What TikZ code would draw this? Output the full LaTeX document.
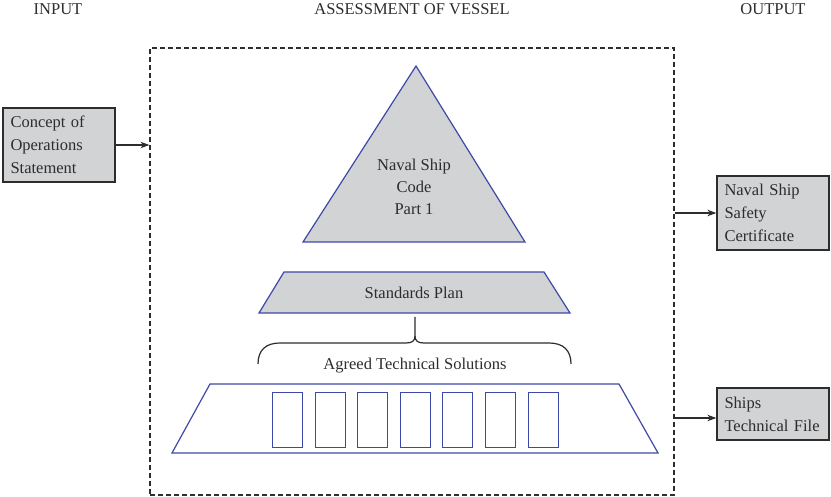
\documentclass[tikz,border=0pt]{standalone}
\usepackage{fontspec}
\setmainfont{Liberation Serif}
\usetikzlibrary{arrows.meta}
\definecolor{boxgray}{RGB}{209,211,212}
\definecolor{lineblue}{RGB}{62,72,165}
\definecolor{darkline}{RGB}{45,45,45}
\begin{document}
\begin{tikzpicture}[x=1pt,y=-1pt,
  every node/.style={font=\fontsize{16.5}{23}\selectfont, text=darkline},
  header/.style={anchor=base, inner sep=0pt},
  grayblock/.style={draw=darkline, line width=1.3pt, fill=boxgray, minimum width=112pt, inner xsep=7pt, inner ysep=0pt, text width=97pt, align=left},
  blueshape/.style={draw=lineblue, line width=1.2pt},
  slot/.style={draw=lineblue, line width=1.1pt},
  frame/.style={draw=darkline, line width=1.2pt, dash pattern=on 5pt off 3pt, minimum width=524pt, minimum height=447pt, inner sep=0pt},
  flow/.style={draw=darkline, line width=1.2pt, -{Stealth[length=9pt,width=6.5pt]}},
  bracepath/.style={draw=darkline, line width=1.2pt}
]
\useasboundingbox (0,0) rectangle (831,497);

% headers
\node[header] (hin) at (58,15) {INPUT};
\node[header] (hmid) at (412,15) {ASSESSMENT OF VESSEL};
\node[header] (hout) at (773,15) {OUTPUT};

% frame
\node[frame] (fr) at (412,271.5) {};

% input / output boxes
\node[grayblock, minimum height=74pt] (inbox) at (59,145) {Concept of\\Operations\\Statement};
\node[grayblock, minimum height=74pt] (out1) at (773,213) {Naval Ship\\Safety\\Certificate};
\node[grayblock, minimum height=52pt] (out2) at (773,414) {Ships\\Technical File};

\coordinate (o1) at (out1.west -| fr.east);
\coordinate (o2s) at ([yshift=-4pt]out2.west -| fr.east);
\coordinate (o2e) at ([yshift=-4pt]out2.west);
\coordinate (iin) at (inbox.east -| fr.west);

\draw[flow] (inbox.east) -- (iin);
\draw[flow] (o1) -- (out1.west);
\draw[flow] (o2s) -- (o2e);

% triangle
\draw[blueshape, fill=boxgray] (416,66) -- (525,242) -- (303,242) -- cycle;
\node[align=center, inner sep=0pt, font=\fontsize{16.5}{22}\selectfont] (code) at (414,187) {Naval Ship\\Code\\Part 1};

% standards plan
\draw[blueshape, fill=boxgray] (284,272) -- (544,272) -- (570,313) -- (259,313) -- cycle;
\node[inner sep=0pt] (sp) at (414,293) {Standards Plan};

% brace
\draw[bracepath] (258,364) .. controls (258,350) and (266,343) .. (280,343) -- (406,343)
   .. controls (412,343) and (415,341) .. (415,336) -- (415,317);
\draw[bracepath] (571,364) .. controls (571,350) and (563,343) .. (549,343) -- (424,343)
   .. controls (418,343) and (415,341) .. (415,336);
\node[inner sep=0pt] (ats) at (415,366) {Agreed Technical Solutions};

% bottom trapezoid
\draw[blueshape] (210,384) -- (619,384) -- (658,453) -- (172,453) -- cycle;
\foreach \xa in {272.5,315.5,357.5,400.5,442.5,485.5,528.5}{
  \draw[slot] (\xa,392.5) rectangle (\xa+30,447.5);
}
\end{tikzpicture}
\end{document}
